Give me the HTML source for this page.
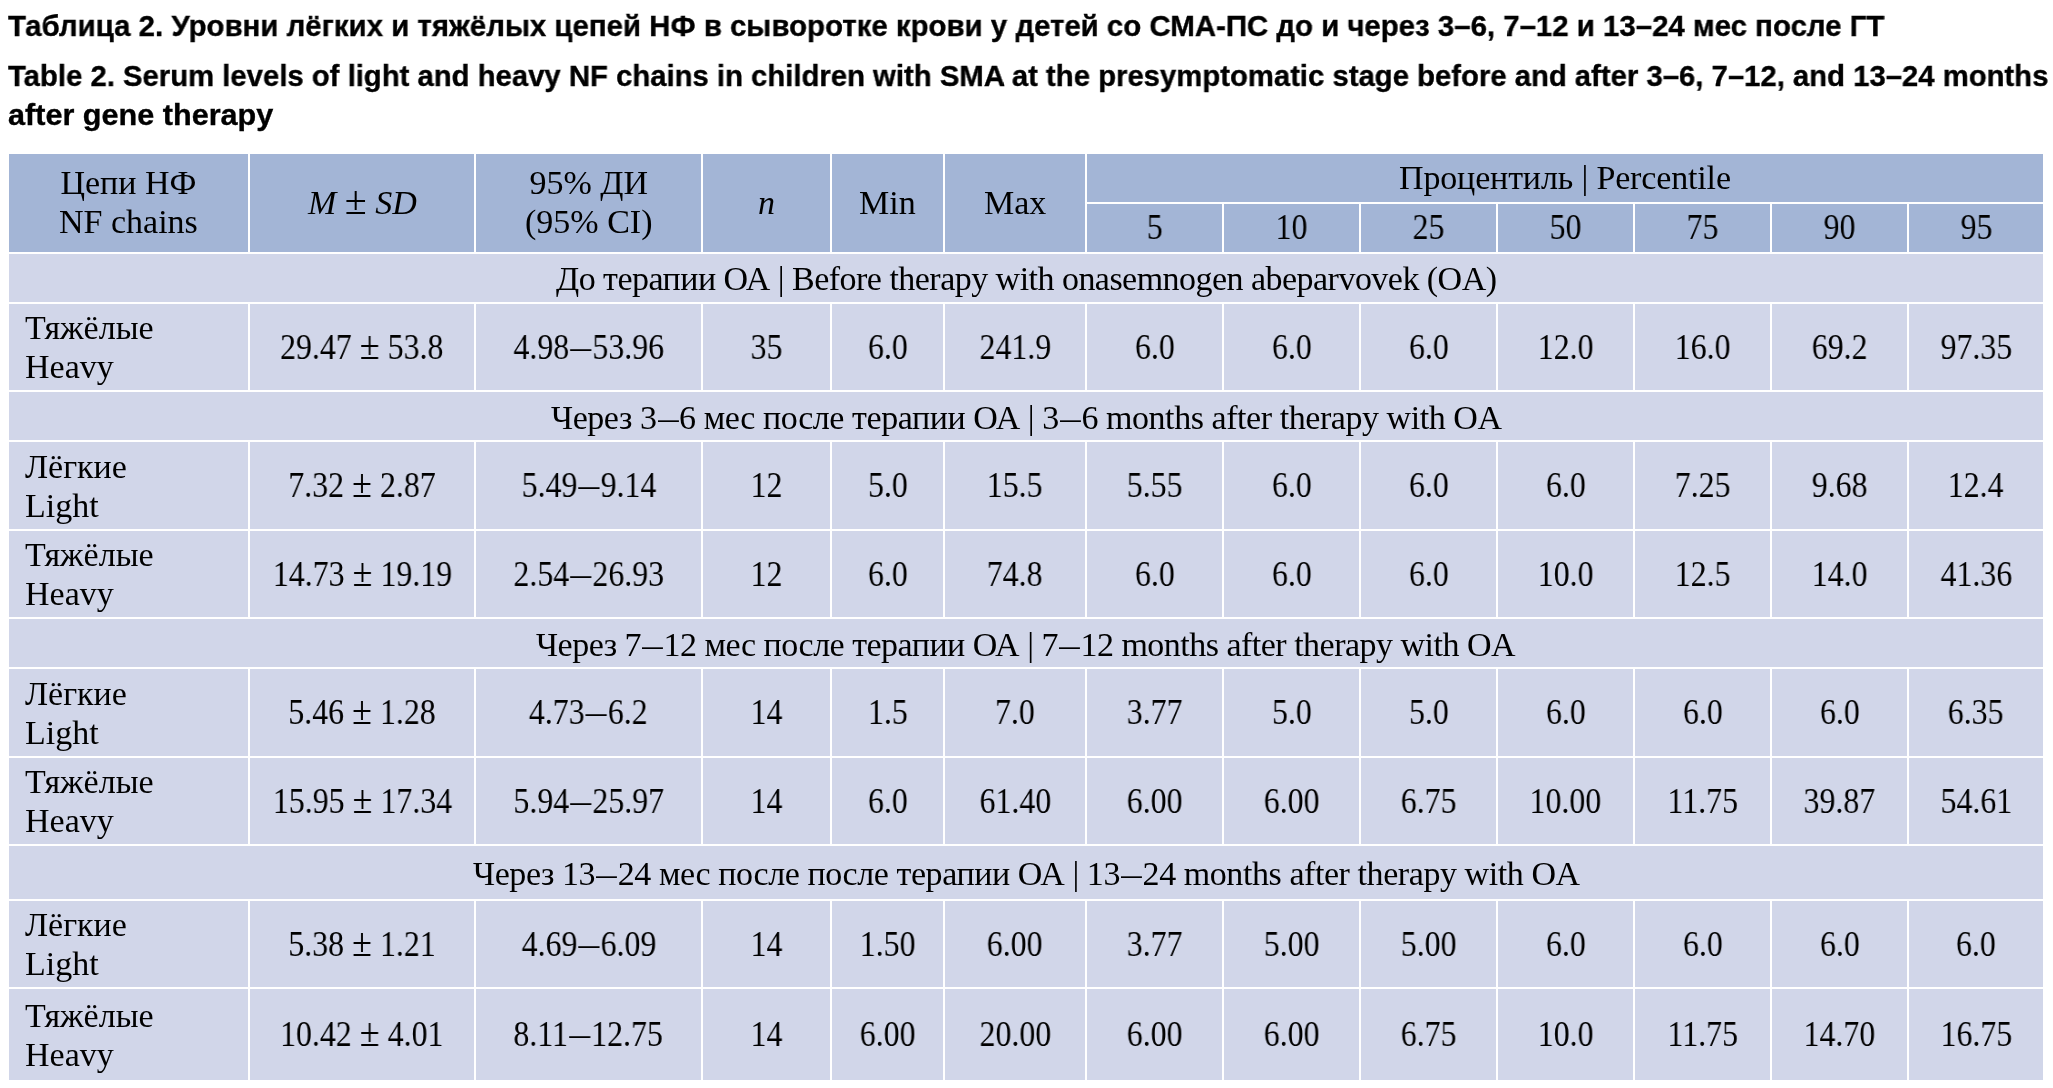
<!DOCTYPE html>
<html><head><meta charset="utf-8"><style>
html,body{margin:0;padding:0}
body{width:2053px;height:1088px;background:#fff;position:relative;overflow:hidden}
.t{position:absolute;left:0;top:0;font-family:"Liberation Sans",sans-serif;font-weight:bold;color:#000;white-space:nowrap;transform-origin:0 0;line-height:30px;-webkit-text-stroke:0.35px #000}
.c{position:absolute;font-family:"Liberation Serif",serif;font-size:34px;line-height:39px;color:#000;display:flex;align-items:center;white-space:nowrap;box-sizing:border-box}
.cc{justify-content:center;text-align:center}
.cl{justify-content:flex-start;padding-left:16px}
.n{display:inline-block;font-size:35px;transform:scaleX(0.91)}
.d{display:inline-block;margin:0 4px;transform:scaleX(1.3)}
.pm{font-size:40px;line-height:0}
.c>span,.t{will-change:transform}
.up{position:relative;top:-1px}
.up2{position:relative;top:-1px}
.sd{display:inline-block;margin:0 3px;transform:scaleX(1.2)}
</style></head><body>
<div class="t" id="t1" style="left:8px;top:11px;font-size:30px;transform:scaleX(0.98)">Таблица 2. Уровни лёгких и тяжёлых цепей НФ в сыворотке крови у детей со СМА-ПС до и через 3–6, 7–12 и 13–24 мес после ГТ</div>
<div class="t" id="t2" style="left:8px;top:60.8px;font-size:30px;transform:scaleX(0.976)">Table 2. Serum levels of light and heavy NF chains in children with SMA at the presymptomatic stage before and after 3–6, 7–12, and 13–24 months</div>
<div class="t" id="t3" style="left:8px;top:100.1px;font-size:30px;transform:scaleX(1.02)">after gene therapy</div>
<div class="c cc" style="left:9px;top:154px;width:239px;height:98px;background:#a3b5d6"><span class="up">Цепи НФ<br>NF chains</span></div>
<div class="c cc" style="left:250px;top:154px;width:224px;height:98px;background:#a3b5d6"><span class="up"><i>M</i> <span class="pm">±</span> <i>SD</i></span></div>
<div class="c cc" style="left:476px;top:154px;width:225px;height:98px;background:#a3b5d6"><span class="up">95% ДИ<br>(95% CI)</span></div>
<div class="c cc" style="left:703px;top:154px;width:127px;height:98px;background:#a3b5d6"><span class="up"><i>n</i></span></div>
<div class="c cc" style="left:832px;top:154px;width:111px;height:98px;background:#a3b5d6"><span class="up">Min</span></div>
<div class="c cc" style="left:945px;top:154px;width:140px;height:98px;background:#a3b5d6"><span class="up">Max</span></div>
<div class="c cc" style="left:1087px;top:154px;width:956px;height:48px;background:#a3b5d6"><span class="up" style="letter-spacing:-0.15px">Процентиль | Percentile</span></div>
<div class="c cc" style="left:1087px;top:204px;width:135px;height:48px;background:#a3b5d6"><span class="n up2">5</span></div>
<div class="c cc" style="left:1224px;top:204px;width:135px;height:48px;background:#a3b5d6"><span class="n up2">10</span></div>
<div class="c cc" style="left:1361px;top:204px;width:135px;height:48px;background:#a3b5d6"><span class="n up2">25</span></div>
<div class="c cc" style="left:1498px;top:204px;width:135px;height:48px;background:#a3b5d6"><span class="n up2">50</span></div>
<div class="c cc" style="left:1635px;top:204px;width:135px;height:48px;background:#a3b5d6"><span class="n up2">75</span></div>
<div class="c cc" style="left:1772px;top:204px;width:135px;height:48px;background:#a3b5d6"><span class="n up2">90</span></div>
<div class="c cc" style="left:1909px;top:204px;width:134px;height:48px;background:#a3b5d6"><span class="n up2">95</span></div>
<div class="c cc" style="left:9px;top:254px;width:2034px;height:48px;background:#d1d6e9"><span style="letter-spacing:-0.53px;position:relative;top:0px">До терапии ОА | Before therapy with onasemnogen abeparvovek (OA)</span></div>
<div class="c cl" style="left:9px;top:304px;width:239px;height:86px;background:#d1d6e9"><span>Тяжёлые<br>Heavy</span></div>
<div class="c cc" style="left:250px;top:304px;width:224px;height:86px;background:#d1d6e9"><span class="n">29.47 <span class="pm">±</span> 53.8</span></div>
<div class="c cc" style="left:476px;top:304px;width:225px;height:86px;background:#d1d6e9"><span class="n">4.98<span class="d">–</span>53.96</span></div>
<div class="c cc" style="left:703px;top:304px;width:127px;height:86px;background:#d1d6e9"><span class="n">35</span></div>
<div class="c cc" style="left:832px;top:304px;width:111px;height:86px;background:#d1d6e9"><span class="n">6.0</span></div>
<div class="c cc" style="left:945px;top:304px;width:140px;height:86px;background:#d1d6e9"><span class="n">241.9</span></div>
<div class="c cc" style="left:1087px;top:304px;width:135px;height:86px;background:#d1d6e9"><span class="n">6.0</span></div>
<div class="c cc" style="left:1224px;top:304px;width:135px;height:86px;background:#d1d6e9"><span class="n">6.0</span></div>
<div class="c cc" style="left:1361px;top:304px;width:135px;height:86px;background:#d1d6e9"><span class="n">6.0</span></div>
<div class="c cc" style="left:1498px;top:304px;width:135px;height:86px;background:#d1d6e9"><span class="n">12.0</span></div>
<div class="c cc" style="left:1635px;top:304px;width:135px;height:86px;background:#d1d6e9"><span class="n">16.0</span></div>
<div class="c cc" style="left:1772px;top:304px;width:135px;height:86px;background:#d1d6e9"><span class="n">69.2</span></div>
<div class="c cc" style="left:1909px;top:304px;width:134px;height:86px;background:#d1d6e9"><span class="n">97.35</span></div>
<div class="c cc" style="left:9px;top:392px;width:2034px;height:48px;background:#d1d6e9"><span style="letter-spacing:-0.44px;position:relative;top:1px">Через 3<span class="sd">–</span>6 мес после терапии ОА | 3<span class="sd">–</span>6 months after therapy with OA</span></div>
<div class="c cl" style="left:9px;top:442px;width:239px;height:87px;background:#d1d6e9"><span>Лёгкие<br>Light</span></div>
<div class="c cc" style="left:250px;top:442px;width:224px;height:87px;background:#d1d6e9"><span class="n">7.32 <span class="pm">±</span> 2.87</span></div>
<div class="c cc" style="left:476px;top:442px;width:225px;height:87px;background:#d1d6e9"><span class="n">5.49<span class="d">–</span>9.14</span></div>
<div class="c cc" style="left:703px;top:442px;width:127px;height:87px;background:#d1d6e9"><span class="n">12</span></div>
<div class="c cc" style="left:832px;top:442px;width:111px;height:87px;background:#d1d6e9"><span class="n">5.0</span></div>
<div class="c cc" style="left:945px;top:442px;width:140px;height:87px;background:#d1d6e9"><span class="n">15.5</span></div>
<div class="c cc" style="left:1087px;top:442px;width:135px;height:87px;background:#d1d6e9"><span class="n">5.55</span></div>
<div class="c cc" style="left:1224px;top:442px;width:135px;height:87px;background:#d1d6e9"><span class="n">6.0</span></div>
<div class="c cc" style="left:1361px;top:442px;width:135px;height:87px;background:#d1d6e9"><span class="n">6.0</span></div>
<div class="c cc" style="left:1498px;top:442px;width:135px;height:87px;background:#d1d6e9"><span class="n">6.0</span></div>
<div class="c cc" style="left:1635px;top:442px;width:135px;height:87px;background:#d1d6e9"><span class="n">7.25</span></div>
<div class="c cc" style="left:1772px;top:442px;width:135px;height:87px;background:#d1d6e9"><span class="n">9.68</span></div>
<div class="c cc" style="left:1909px;top:442px;width:134px;height:87px;background:#d1d6e9"><span class="n">12.4</span></div>
<div class="c cl" style="left:9px;top:531px;width:239px;height:86px;background:#d1d6e9"><span>Тяжёлые<br>Heavy</span></div>
<div class="c cc" style="left:250px;top:531px;width:224px;height:86px;background:#d1d6e9"><span class="n">14.73 <span class="pm">±</span> 19.19</span></div>
<div class="c cc" style="left:476px;top:531px;width:225px;height:86px;background:#d1d6e9"><span class="n">2.54<span class="d">–</span>26.93</span></div>
<div class="c cc" style="left:703px;top:531px;width:127px;height:86px;background:#d1d6e9"><span class="n">12</span></div>
<div class="c cc" style="left:832px;top:531px;width:111px;height:86px;background:#d1d6e9"><span class="n">6.0</span></div>
<div class="c cc" style="left:945px;top:531px;width:140px;height:86px;background:#d1d6e9"><span class="n">74.8</span></div>
<div class="c cc" style="left:1087px;top:531px;width:135px;height:86px;background:#d1d6e9"><span class="n">6.0</span></div>
<div class="c cc" style="left:1224px;top:531px;width:135px;height:86px;background:#d1d6e9"><span class="n">6.0</span></div>
<div class="c cc" style="left:1361px;top:531px;width:135px;height:86px;background:#d1d6e9"><span class="n">6.0</span></div>
<div class="c cc" style="left:1498px;top:531px;width:135px;height:86px;background:#d1d6e9"><span class="n">10.0</span></div>
<div class="c cc" style="left:1635px;top:531px;width:135px;height:86px;background:#d1d6e9"><span class="n">12.5</span></div>
<div class="c cc" style="left:1772px;top:531px;width:135px;height:86px;background:#d1d6e9"><span class="n">14.0</span></div>
<div class="c cc" style="left:1909px;top:531px;width:134px;height:86px;background:#d1d6e9"><span class="n">41.36</span></div>
<div class="c cc" style="left:9px;top:619px;width:2034px;height:48px;background:#d1d6e9"><span style="letter-spacing:-0.51px;position:relative;top:1px">Через 7<span class="sd">–</span>12 мес после терапии ОА | 7<span class="sd">–</span>12 months after therapy with OA</span></div>
<div class="c cl" style="left:9px;top:669px;width:239px;height:87px;background:#d1d6e9"><span>Лёгкие<br>Light</span></div>
<div class="c cc" style="left:250px;top:669px;width:224px;height:87px;background:#d1d6e9"><span class="n">5.46 <span class="pm">±</span> 1.28</span></div>
<div class="c cc" style="left:476px;top:669px;width:225px;height:87px;background:#d1d6e9"><span class="n">4.73<span class="d">–</span>6.2</span></div>
<div class="c cc" style="left:703px;top:669px;width:127px;height:87px;background:#d1d6e9"><span class="n">14</span></div>
<div class="c cc" style="left:832px;top:669px;width:111px;height:87px;background:#d1d6e9"><span class="n">1.5</span></div>
<div class="c cc" style="left:945px;top:669px;width:140px;height:87px;background:#d1d6e9"><span class="n">7.0</span></div>
<div class="c cc" style="left:1087px;top:669px;width:135px;height:87px;background:#d1d6e9"><span class="n">3.77</span></div>
<div class="c cc" style="left:1224px;top:669px;width:135px;height:87px;background:#d1d6e9"><span class="n">5.0</span></div>
<div class="c cc" style="left:1361px;top:669px;width:135px;height:87px;background:#d1d6e9"><span class="n">5.0</span></div>
<div class="c cc" style="left:1498px;top:669px;width:135px;height:87px;background:#d1d6e9"><span class="n">6.0</span></div>
<div class="c cc" style="left:1635px;top:669px;width:135px;height:87px;background:#d1d6e9"><span class="n">6.0</span></div>
<div class="c cc" style="left:1772px;top:669px;width:135px;height:87px;background:#d1d6e9"><span class="n">6.0</span></div>
<div class="c cc" style="left:1909px;top:669px;width:134px;height:87px;background:#d1d6e9"><span class="n">6.35</span></div>
<div class="c cl" style="left:9px;top:758px;width:239px;height:86px;background:#d1d6e9"><span>Тяжёлые<br>Heavy</span></div>
<div class="c cc" style="left:250px;top:758px;width:224px;height:86px;background:#d1d6e9"><span class="n">15.95 <span class="pm">±</span> 17.34</span></div>
<div class="c cc" style="left:476px;top:758px;width:225px;height:86px;background:#d1d6e9"><span class="n">5.94<span class="d">–</span>25.97</span></div>
<div class="c cc" style="left:703px;top:758px;width:127px;height:86px;background:#d1d6e9"><span class="n">14</span></div>
<div class="c cc" style="left:832px;top:758px;width:111px;height:86px;background:#d1d6e9"><span class="n">6.0</span></div>
<div class="c cc" style="left:945px;top:758px;width:140px;height:86px;background:#d1d6e9"><span class="n">61.40</span></div>
<div class="c cc" style="left:1087px;top:758px;width:135px;height:86px;background:#d1d6e9"><span class="n">6.00</span></div>
<div class="c cc" style="left:1224px;top:758px;width:135px;height:86px;background:#d1d6e9"><span class="n">6.00</span></div>
<div class="c cc" style="left:1361px;top:758px;width:135px;height:86px;background:#d1d6e9"><span class="n">6.75</span></div>
<div class="c cc" style="left:1498px;top:758px;width:135px;height:86px;background:#d1d6e9"><span class="n">10.00</span></div>
<div class="c cc" style="left:1635px;top:758px;width:135px;height:86px;background:#d1d6e9"><span class="n">11.75</span></div>
<div class="c cc" style="left:1772px;top:758px;width:135px;height:86px;background:#d1d6e9"><span class="n">39.87</span></div>
<div class="c cc" style="left:1909px;top:758px;width:134px;height:86px;background:#d1d6e9"><span class="n">54.61</span></div>
<div class="c cc" style="left:9px;top:846px;width:2034px;height:53px;background:#d1d6e9"><span style="letter-spacing:-0.43px;position:relative;top:1px">Через 13<span class="sd">–</span>24 мес после после терапии ОА | 13<span class="sd">–</span>24 months after therapy with OA</span></div>
<div class="c cl" style="left:9px;top:901px;width:239px;height:86px;background:#d1d6e9"><span>Лёгкие<br>Light</span></div>
<div class="c cc" style="left:250px;top:901px;width:224px;height:86px;background:#d1d6e9"><span class="n">5.38 <span class="pm">±</span> 1.21</span></div>
<div class="c cc" style="left:476px;top:901px;width:225px;height:86px;background:#d1d6e9"><span class="n">4.69<span class="d">–</span>6.09</span></div>
<div class="c cc" style="left:703px;top:901px;width:127px;height:86px;background:#d1d6e9"><span class="n">14</span></div>
<div class="c cc" style="left:832px;top:901px;width:111px;height:86px;background:#d1d6e9"><span class="n">1.50</span></div>
<div class="c cc" style="left:945px;top:901px;width:140px;height:86px;background:#d1d6e9"><span class="n">6.00</span></div>
<div class="c cc" style="left:1087px;top:901px;width:135px;height:86px;background:#d1d6e9"><span class="n">3.77</span></div>
<div class="c cc" style="left:1224px;top:901px;width:135px;height:86px;background:#d1d6e9"><span class="n">5.00</span></div>
<div class="c cc" style="left:1361px;top:901px;width:135px;height:86px;background:#d1d6e9"><span class="n">5.00</span></div>
<div class="c cc" style="left:1498px;top:901px;width:135px;height:86px;background:#d1d6e9"><span class="n">6.0</span></div>
<div class="c cc" style="left:1635px;top:901px;width:135px;height:86px;background:#d1d6e9"><span class="n">6.0</span></div>
<div class="c cc" style="left:1772px;top:901px;width:135px;height:86px;background:#d1d6e9"><span class="n">6.0</span></div>
<div class="c cc" style="left:1909px;top:901px;width:134px;height:86px;background:#d1d6e9"><span class="n">6.0</span></div>
<div class="c cl" style="left:9px;top:989px;width:239px;height:91px;background:#d1d6e9"><span>Тяжёлые<br>Heavy</span></div>
<div class="c cc" style="left:250px;top:989px;width:224px;height:91px;background:#d1d6e9"><span class="n">10.42 <span class="pm">±</span> 4.01</span></div>
<div class="c cc" style="left:476px;top:989px;width:225px;height:91px;background:#d1d6e9"><span class="n">8.11<span class="d">–</span>12.75</span></div>
<div class="c cc" style="left:703px;top:989px;width:127px;height:91px;background:#d1d6e9"><span class="n">14</span></div>
<div class="c cc" style="left:832px;top:989px;width:111px;height:91px;background:#d1d6e9"><span class="n">6.00</span></div>
<div class="c cc" style="left:945px;top:989px;width:140px;height:91px;background:#d1d6e9"><span class="n">20.00</span></div>
<div class="c cc" style="left:1087px;top:989px;width:135px;height:91px;background:#d1d6e9"><span class="n">6.00</span></div>
<div class="c cc" style="left:1224px;top:989px;width:135px;height:91px;background:#d1d6e9"><span class="n">6.00</span></div>
<div class="c cc" style="left:1361px;top:989px;width:135px;height:91px;background:#d1d6e9"><span class="n">6.75</span></div>
<div class="c cc" style="left:1498px;top:989px;width:135px;height:91px;background:#d1d6e9"><span class="n">10.0</span></div>
<div class="c cc" style="left:1635px;top:989px;width:135px;height:91px;background:#d1d6e9"><span class="n">11.75</span></div>
<div class="c cc" style="left:1772px;top:989px;width:135px;height:91px;background:#d1d6e9"><span class="n">14.70</span></div>
<div class="c cc" style="left:1909px;top:989px;width:134px;height:91px;background:#d1d6e9"><span class="n">16.75</span></div>
</body></html>
